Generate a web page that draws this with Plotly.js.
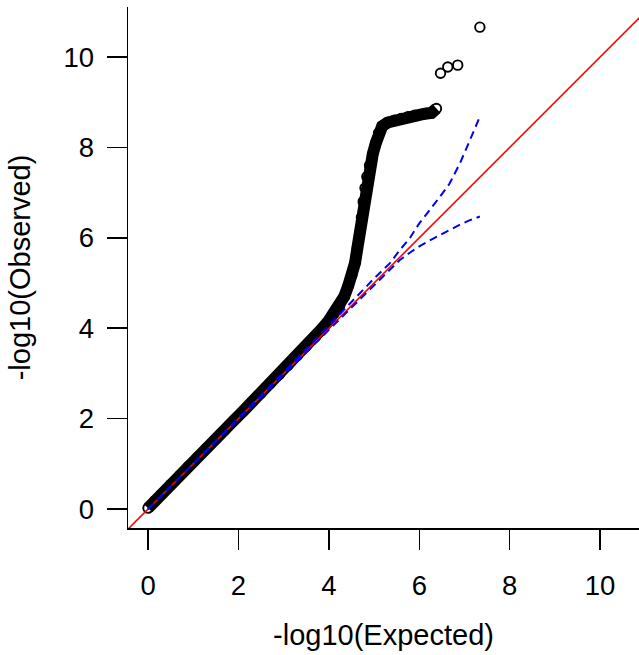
<!DOCTYPE html>
<html>
<head>
<meta charset="utf-8">
<script src="https://cdn.plot.ly/plotly-3.0.1.min.js"></script>
<style>html,body{margin:0;padding:0;background:#fff;}#chart{width:639px;height:655px;}</style>
</head>
<body>
<div id="chart"></div>
<script>
// Main band of points (expected vs observed -log10 p)
const bandExpected = [0.00,0.15,0.30,0.50,0.70,0.90,1.10,1.30,1.50,1.70,1.90,2.10,2.30,2.50,2.70,2.90,3.10,3.30,3.50,3.70,3.85,4.00,4.12,4.24,4.34,4.43,4.51,4.58,4.63,4.68,4.72,4.76,4.80,4.84,4.90,4.97,5.04,5.10,5.18,5.30,5.45,5.60,5.75,5.90,6.05,6.16,6.27,6.38];
const bandObserved = [0.02,0.18,0.33,0.54,0.74,0.95,1.15,1.35,1.55,1.75,1.96,2.16,2.36,2.56,2.77,2.97,3.18,3.39,3.60,3.81,3.99,4.17,4.33,4.50,4.70,4.94,5.18,5.45,5.77,6.10,6.45,6.80,7.10,7.35,7.60,7.85,8.10,8.32,8.47,8.55,8.60,8.64,8.68,8.71,8.73,8.75,8.76,8.86];
// Isolated top points
const topExpected = [6.47,6.63,6.85,7.34];
const topObserved = [9.64,9.78,9.82,10.66];
// Reference line y = x
const refX = [-1,12];
const refY = [-1,12];
// Confidence band (blue dashed)
const ciX =     [0,1,2,3,3.5,4,4.5,5,5.35,5.57,5.79,6.0,6.23,6.45,6.67,6.9,7.12,7.34];
const ciUpper = [0,1.0,2.01,3.02,3.54,4.05,4.58,5.1,5.44,5.73,5.99,6.32,6.61,6.9,7.2,7.65,8.16,8.68];
const ciLower = [0,1.0,1.99,2.98,3.47,3.96,4.45,4.94,5.29,5.51,5.67,5.81,5.94,6.06,6.18,6.29,6.39,6.47];
const tickVals = [0,2,4,6,8,10];
const tickText = ['0','2','4','6','8','10'];

const FONT = 'Liberation Sans, Arial, Helvetica, sans-serif';
const circ = {symbol:'circle-open', size:9.5, color:'#000', line:{color:'#000', width:1.9}};

const traces = [
  {x: bandExpected, y: bandObserved, mode:'lines+markers', line:{color:'#000', width:12}, marker: circ, hoverinfo:'skip'},
  {x: topExpected, y: topObserved, mode:'markers', marker: circ},
  {x: refX, y: refY, mode:'lines', line:{color:'#ff0000', width:1.6}},
  {x: ciX, y: ciUpper, mode:'lines', line:{color:'#0000ff', width:2, dash:'8px,5px'}},
  {x: ciX, y: ciLower, mode:'lines', line:{color:'#0000ff', width:2, dash:'8px,5px'}}
];

const axisCommon = {
  showline:true, linecolor:'#000', linewidth:1.5, mirror:false,
  showgrid:false, zeroline:false,
  ticks:'outside', ticklen:20, tickwidth:1.5, tickcolor:'#000',
  tickvals: tickVals, ticktext: tickText,
  tickfont:{family:FONT, size:27.5, color:'#000'}
};

const layout = {
  width:639, height:655,
  margin:{l:128, r:0, t:7, b:127},
  paper_bgcolor:'#fff', plot_bgcolor:'#fff',
  showlegend:false,
  font:{family:FONT, color:'#000'},
  xaxis: Object.assign({}, axisCommon, {
    range:[-0.443, 10.86],
    ticklabelstandoff: 12,
    title:{text:'-log10(Expected)', font:{family:FONT, size:29, color:'#000'}, standoff:25}
  }),
  yaxis: Object.assign({}, axisCommon, {
    range:[-0.42, 11.106],
    ticklabelstandoff: 7,
    title:{text:'-log10(Observed)', font:{family:FONT, size:29, color:'#000'}, standoff:24}
  })
};

Plotly.newPlot('chart', traces, layout, {displayModeBar:false, staticPlot:true});
</script>
</body>
</html>
